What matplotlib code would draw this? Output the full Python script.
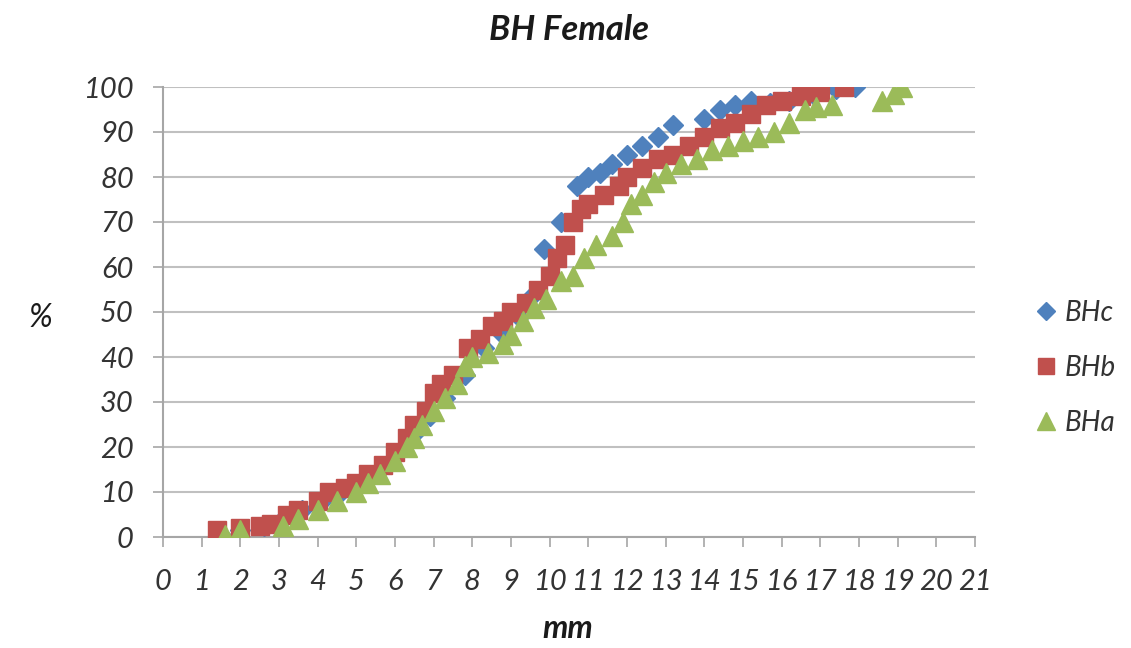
import matplotlib
matplotlib.use("Agg")
import matplotlib.pyplot as plt
from matplotlib.lines import Line2D

title = "BH Female"
xlabel = "mm"
ylabel = "%"
series_names = ["BHc", "BHb", "BHa"]

# BHc (blue diamonds)
bhc_x = [1.5, 2.0, 2.6, 3.1, 3.6, 4.1, 4.6, 5.1, 5.6, 6.1, 6.5, 6.9, 7.3, 7.8,
         8.3, 8.8, 9.2, 9.6, 9.85, 10.3, 10.7, 11.0, 11.3, 11.6, 12.0, 12.4,
         12.8, 13.2, 14.0, 14.4, 14.8, 15.2, 15.7, 16.2, 16.8, 17.4, 17.9]
bhc_y = [0.5, 1.5, 2.5, 4, 6, 8, 10, 12, 15, 19, 23, 27, 31, 36,
         42, 45, 49, 54, 64, 70, 78, 80, 81, 83, 85, 87,
         89, 91.5, 93, 95, 96, 97, 96.5, 97, 98.5, 99.5, 100]

# BHb (red squares)
bhb_x = [1.4, 2.0, 2.5, 2.8, 3.2, 3.5, 4.0, 4.3, 4.7, 5.0, 5.3, 5.7, 6.0, 6.3,
         6.5, 6.8, 7.0, 7.2, 7.5, 7.9, 8.2, 8.5, 8.8, 9.0, 9.4, 9.7, 10.0,
         10.2, 10.4, 10.6, 10.8, 11.0, 11.4, 11.8, 12.0, 12.4, 12.8, 13.2,
         13.6, 14.0, 14.4, 14.8, 15.2, 15.6, 16.0, 16.5, 17.0, 17.6]
bhb_y = [1.5, 2, 2.5, 3, 5, 6, 8, 10, 11, 12, 14, 16, 19, 22,
         25, 28, 32, 34, 36, 42, 44, 47, 48, 50, 52, 55, 58,
         62, 65, 70, 73, 74, 76, 78, 80, 82, 84, 85,
         87, 89, 91, 92, 94, 96, 97, 98, 99, 100]

# BHa (green triangles)
bha_x = [1.6, 2.0, 3.1, 3.5, 4.0, 4.5, 5.0, 5.3, 5.6, 6.0, 6.3, 6.5, 6.7, 7.0,
         7.3, 7.6, 7.8, 8.0, 8.4, 8.8, 9.0, 9.3, 9.6, 9.9, 10.3, 10.6, 10.9,
         11.2, 11.6, 11.9, 12.1, 12.4, 12.7, 13.0, 13.4, 13.8, 14.2, 14.6,
         15.0, 15.4, 15.8, 16.2, 16.6, 16.9, 17.3, 18.6, 18.9, 19.1]
bha_y = [0.5, 1.5, 2.5, 4, 6, 8, 10, 12, 14, 17, 20, 22, 25, 28,
         31, 34, 38, 40, 41, 43, 45, 48, 51, 53, 57, 58, 62,
         65, 67, 70, 74, 76, 79, 81, 83, 84, 86, 87,
         88, 89, 90, 92, 95, 95.5, 96, 97, 98.5, 100]

colors = {"BHc": "#4F81BD", "BHb": "#C0504D", "BHa": "#9BBB59"}
markers = {"BHc": "D", "BHb": "s", "BHa": "^"}
sizes = {"BHc": 10, "BHb": 12.5, "BHa": 14}

font = "Lato"
txt = "#333333"

fig = plt.figure(figsize=(11.31, 6.48), dpi=100)
ax = fig.add_axes([163/1131, 1-537/648, (975-163)/1131, (537-87)/648])

data = {"BHc": (bhc_x, bhc_y), "BHb": (bhb_x, bhb_y), "BHa": (bha_x, bha_y)}
for name in series_names:
    xs, ys = data[name]
    ax.plot(xs, ys, linestyle="none", marker=markers[name], color=colors[name],
            markersize=sizes[name], markeredgecolor=colors[name], label=name, zorder=3)

ax.set_xlim(0, 21)
ax.set_ylim(0, 100)
ax.set_xticks(range(0, 22))
ax.set_yticks(range(0, 101, 10))
ax.yaxis.grid(True, color="#C0C0C0", linewidth=1.5)
ax.set_axisbelow(True)
for s in ["top", "right"]:
    ax.spines[s].set_visible(False)
for s in ["left", "bottom"]:
    ax.spines[s].set_color("#A6A6A6")
    ax.spines[s].set_linewidth(1.5)
ax.tick_params(axis="both", colors="#A6A6A6", length=7, width=1.2, direction="out")
ax.tick_params(axis="y", pad=14)
ax.tick_params(axis="x", pad=16)
for lab in ax.get_xticklabels() + ax.get_yticklabels():
    lab.set_fontfamily(font)
    lab.set_fontstyle("italic")
    lab.set_fontsize(21)
    lab.set_color(txt)

fig.text(569/1131, 1-30/648, title, ha="center", va="center", fontsize=25,
         fontweight="bold", fontstyle="italic", family=font, color="#1a1a1a")
fig.text(568/1131, 1-628/648, xlabel, ha="center", va="center", fontsize=23,
         fontweight="bold", fontstyle="italic", family=font, color="#1a1a1a")
fig.text(40/1131, 1-318/648, ylabel, ha="center", va="center", fontsize=23,
         fontstyle="italic", family=font, color="#1a1a1a")

handles = [Line2D([0], [0], linestyle="none", marker=markers[n], color=colors[n],
                  markersize=sizes[n] * 0.95) for n in series_names]
leg = fig.legend(handles, series_names, loc="center left",
                 bbox_to_anchor=(1033/1131, 1-368/648), frameon=False,
                 prop={"family": font, "style": "italic", "size": 20},
                 labelspacing=1.05, handletextpad=0.25, handlelength=0.9,
                 borderaxespad=0, borderpad=0)
for t in leg.get_texts():
    t.set_color(txt)

fig.savefig("out.png", dpi=100)
